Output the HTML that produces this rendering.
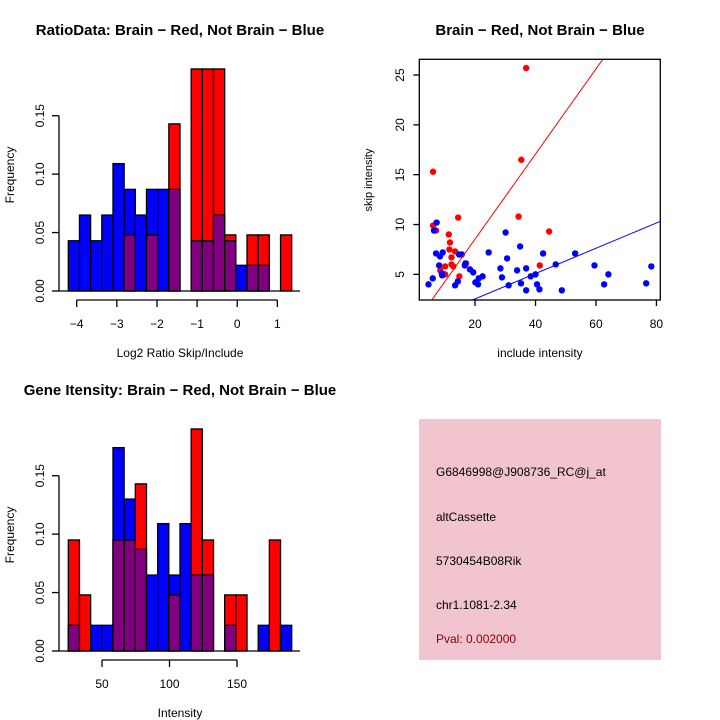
<!DOCTYPE html>
<html><head><meta charset="utf-8"><style>
body{margin:0;background:#fff}
svg{display:block;font-family:"Liberation Sans",sans-serif}
</style></head><body>
<svg id="chart" width="720" height="720">
<rect width="720" height="720" fill="#fff"/>
<g id="hist1"></g>
<g id="scatter"></g>
<g id="hist2"></g>
<g>
<rect x="419" y="419" width="242" height="241" fill="#f2c4cf"/>
<g font-size="12" fill="#000">
<text x="436" y="476">G6846998@J908736_RC@j_at</text>
<text x="436" y="521">altCassette</text>
<text x="436" y="565">5730454B08Rik</text>
<text x="436" y="609">chr1.1081-2.34</text>
<text x="436" y="643" fill="#8b0000">Pval: 0.002000</text>
</g></g>
</svg>
<script>
const NS="http://www.w3.org/2000/svg";
// Histogram 1 data (20 bins)
const h1Blue=[0.043,0.065,0.043,0.065,0.109,0.087,0.065,0.087,0.087,0.087,0,0.043,0.043,0.065,0.043,0.022,0.022,0.022,0,0];
const h1Red=[0,0,0,0,0,0.048,0,0.048,0,0.143,0,0.190,0.190,0.190,0.048,0,0.048,0.048,0,0.048];
const h1XTicks=[-4,-3,-2,-1,0,1];
// Histogram 2 data
const h2Blue=[0.022,0,0.022,0.022,0.174,0.130,0.087,0.065,0.109,0.065,0.109,0.065,0.065,0,0.022,0,0,0.022,0,0.022];
const h2Red=[0.095,0.048,0,0,0.095,0.095,0.143,0,0,0.048,0,0.190,0.095,0,0.048,0.048,0,0,0.095,0];
const h2XTicks=[50,100,150];
const yTicks=[0,0.05,0.10,0.15];
const yTickLabels=["0.00","0.05","0.10","0.15"];
// Scatter data
const redX=[36.9,35.3,6.1,34.4,14.4,44.5,6.1,7.1,11.3,11.7,11.5,13.4,12.2,12.2,12.8,10.1,8.5,10.1,14.8,17.0,41.4];
const redY=[25.7,16.5,15.3,10.8,10.7,9.3,9.9,9.4,9.0,8.2,7.5,7.3,6.7,6.0,5.8,5.8,5.4,5.0,4.8,6.1,5.9];
const blueX=[4.6,6.0,7.3,6.4,7.1,8.4,8.1,9.3,9.0,9.1,13.4,14.3,14.7,15.6,16.8,16.6,18.3,19.4,20.1,21.0,21.2,22.5,24.5,28.4,28.9,30.1,30.6,31.1,33.9,34.9,35.2,36.9,36.9,38.4,40.0,40.5,41.3,42.5,46.7,48.7,53.1,59.5,62.7,64.1,76.6,78.3];
const blueY=[4.0,4.6,10.2,9.4,7.1,6.8,5.9,7.2,5.1,4.9,3.9,4.3,7.0,7.0,6.1,5.9,5.5,5.2,4.2,4.0,4.6,4.8,7.2,5.6,4.7,9.2,6.6,3.9,5.4,7.8,4.1,5.6,3.4,4.8,5.0,4.0,3.5,7.1,6.0,3.4,7.1,5.9,4.0,5.0,4.1,5.8];
const redSlope=0.427, blueSlope=0.127;
const sxTicks=[20,40,60,80], syTicks=[5,10,15,20,25];

function el(parent,tag,attrs){const e=document.createElementNS(NS,tag);for(const k in attrs)e.setAttribute(k,attrs[k]);parent.appendChild(e);return e;}
function txt(parent,x,y,s,attrs){const t=el(parent,'text',Object.assign({x:x,y:y,'text-anchor':'middle','font-size':12},attrs||{}));t.textContent=s;return t;}

function hist(g,oy,blue,red,xTicks,xScale,title,xlabel,prefix){
  const y=v=>oy+291-v*(175.3/0.15);
  const x0=68.3,bw=11.17;
  for(let i=0;i<blue.length;i++){
    const b=blue[i],r=red[i],mx=Math.max(b,r),mn=Math.min(b,r);
    const bx=x0+i*bw;
    if(mx>0){
      const col=b>r?'#0000ff':(r>b?'#ff0000':'#800080');
      const rc=el(g,'rect',{x:bx,y:y(mx),width:bw,height:y(0)-y(mx),fill:col,stroke:'#000','stroke-width':1.3});
      
      
    }
    if(mn>0){
      const rp=el(g,'rect',{x:bx,y:y(mn),width:bw,height:y(0)-y(mn),fill:'#800080',stroke:'#000','stroke-width':1.3});
      
      
    }
  }
  el(g,'line',{x1:59,x2:300,y1:y(0),y2:y(0),stroke:'#000','stroke-width':1.3});
  el(g,'line',{x1:59,x2:59,y1:y(0),y2:y(0.15),stroke:'#000','stroke-width':1.3});
  yTicks.forEach((v,i)=>{el(g,'line',{x1:52,x2:59,y1:y(v),y2:y(v),stroke:'#000','stroke-width':1.3});
    const t=txt(g,0,0,yTickLabels[i],{transform:`translate(44,${y(v)}) rotate(-90)`});
    });
  const ay=oy+300;
  el(g,'line',{x1:xScale(xTicks[0]),x2:xScale(xTicks[xTicks.length-1]),y1:ay,y2:ay,stroke:'#000','stroke-width':1.3});
  xTicks.forEach(v=>{el(g,'line',{x1:xScale(v),x2:xScale(v),y1:ay,y2:ay+7,stroke:'#000','stroke-width':1.3});
    const t=txt(g,xScale(v),oy+328,v<0?'\u2212'+(-v):String(v));
    });
  const tt=txt(g,180,oy+35,title,{'font-weight':'bold','font-size':15});
  
  const xl=txt(g,180,oy+357,xlabel);
  
  const yl=txt(g,0,0,'Frequency',{transform:`translate(14,${oy+175}) rotate(-90)`});
  
}
hist(document.getElementById('hist1'),0,h1Blue,h1Red,h1XTicks,v=>76.7+(v+4)*40.13,'RatioData: Brain \u2212 Red, Not Brain \u2212 Blue','Log2 Ratio Skip/Include','ratio');
hist(document.getElementById('hist2'),360,h2Blue,h2Red,h2XTicks,v=>102+(v-50)*1.35,'Gene Itensity: Brain \u2212 Red, Not Brain \u2212 Blue','Intensity','intensity');

(function(){
  const g=document.getElementById('scatter');
  const X0=419.3,X1=660.3,Y0=59.3,Y1=300;
  const sx=v=>414.6+v*3.023, sy=v=>324.2-v*9.967;
  const defs=el(g,'defs',{});const cp=el(defs,'clipPath',{id:'sclip'});
  el(cp,'rect',{x:X0,y:Y0,width:X1-X0,height:Y1-Y0});
  const cg=el(g,'g',{'clip-path':'url(#sclip)'});
  for(let i=0;i<redX.length;i++){const c=el(cg,'circle',{cx:sx(redX[i]),cy:sy(redY[i]),r:3.2,fill:'#ff0000'});
    }
  for(let i=0;i<blueX.length;i++){const c=el(cg,'circle',{cx:sx(blueX[i]),cy:sy(blueY[i]),r:3.2,fill:'#0000ff'});
    }
  const rl=el(cg,'line',{x1:sx(0),y1:sy(0),x2:sx(90),y2:sy(90*redSlope),stroke:'#ff0000','stroke-width':1});
  
  const bl=el(cg,'line',{x1:sx(0),y1:sy(0),x2:sx(90),y2:sy(90*blueSlope),stroke:'#0000ff','stroke-width':1});
  
  el(g,'rect',{x:X0,y:Y0,width:X1-X0,height:Y1-Y0,fill:'none',stroke:'#000','stroke-width':1.3});
  sxTicks.forEach(v=>{el(g,'line',{x1:sx(v),x2:sx(v),y1:Y1,y2:Y1+6,stroke:'#000','stroke-width':1.3});
    const t=txt(g,sx(v),328,String(v));});
  syTicks.forEach(v=>{el(g,'line',{x1:X0-6,x2:X0,y1:sy(v),y2:sy(v),stroke:'#000','stroke-width':1.3});
    const t=txt(g,0,0,String(v),{transform:`translate(404,${sy(v)}) rotate(-90)`});});
  const tt=txt(g,540,35,'Brain \u2212 Red, Not Brain \u2212 Blue',{'font-weight':'bold','font-size':15});
  
  const xl=txt(g,540,357,'include intensity');
  const yl=txt(g,0,0,'skip intensity',{transform:'translate(372,180) rotate(-90)','font-size':11});
  
})();
</script>
</body></html>
